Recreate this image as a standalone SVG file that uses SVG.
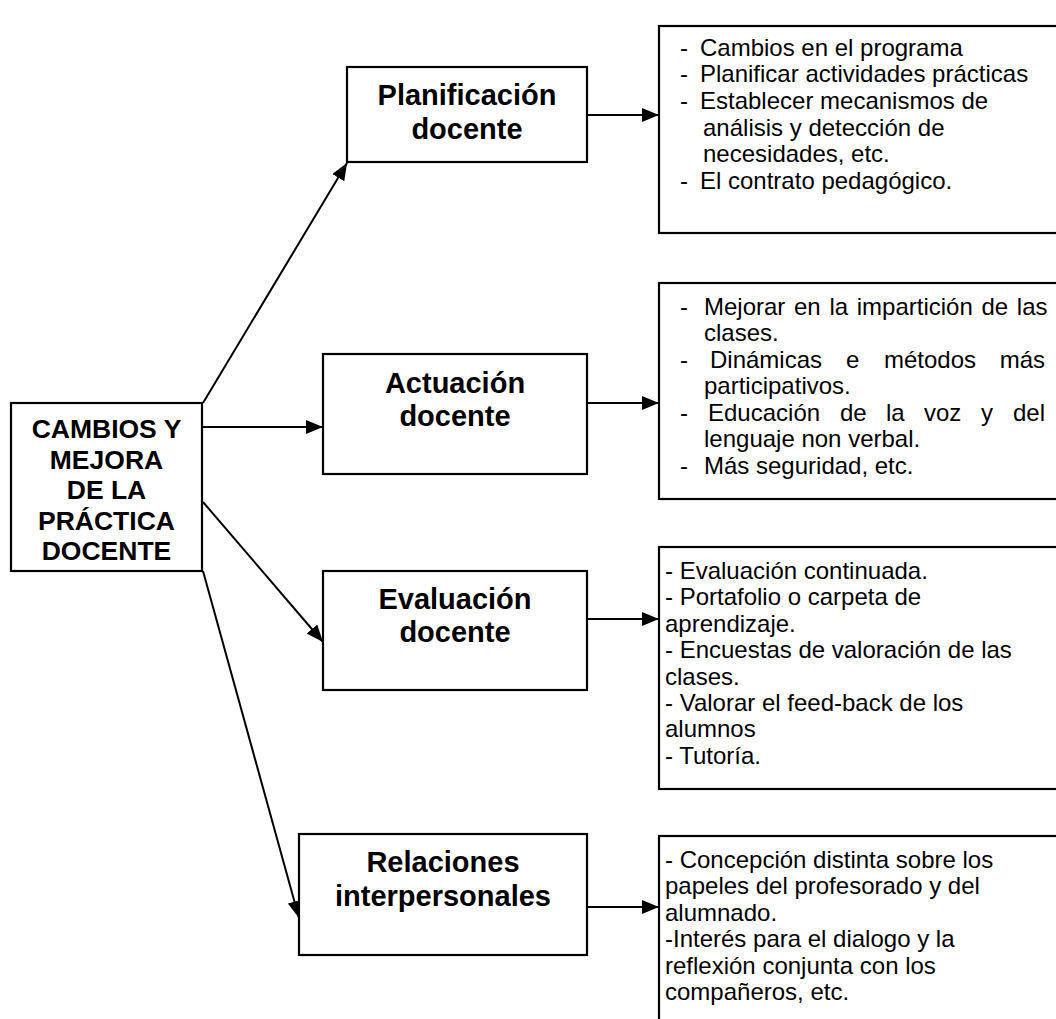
<svg xmlns="http://www.w3.org/2000/svg" width="1056" height="1019" viewBox="0 0 1056 1019">
  <style>
    .box { fill: #ffffff; stroke: #000000; stroke-width: 2.2; }
    .conn { fill: none; stroke: #000000; stroke-width: 2; }
    .main { font-family: "Liberation Sans", Arial, sans-serif; font-weight: bold; font-size: 26.5px; text-anchor: middle; fill: #000; }
    .head { font-family: "Liberation Sans", Arial, sans-serif; font-weight: bold; font-size: 29px; text-anchor: middle; fill: #000; }
    .item { font-family: "Liberation Sans", Arial, sans-serif; font-size: 24px; fill: #000; }
  </style>
  <defs>
    <marker id="arrow" markerUnits="userSpaceOnUse" markerWidth="17" markerHeight="14" refX="17" refY="7" orient="auto">
      <path d="M0,0 L17,7 L0,14 Z" fill="#000"/>
    </marker>
  </defs>
  <rect width="1056" height="1019" fill="#ffffff"/>

  <!-- connectors -->
  <g id="connectors">
    <line class="conn" x1="203" y1="403" x2="347" y2="163" marker-end="url(#arrow)"/>
    <line class="conn" x1="202" y1="427" x2="323" y2="427" marker-end="url(#arrow)"/>
    <line class="conn" x1="203" y1="502" x2="323" y2="642" marker-end="url(#arrow)"/>
    <line class="conn" x1="203" y1="571" x2="299" y2="918" marker-end="url(#arrow)"/>
    <line class="conn" x1="587" y1="115" x2="659" y2="115" marker-end="url(#arrow)"/>
    <line class="conn" x1="587" y1="403" x2="659" y2="403" marker-end="url(#arrow)"/>
    <line class="conn" x1="587" y1="619" x2="659" y2="619" marker-end="url(#arrow)"/>
    <line class="conn" x1="587" y1="907" x2="659" y2="907" marker-end="url(#arrow)"/>
  </g>

  <!-- central node -->
  <g id="cambios">
    <rect class="box" x="11" y="403" width="191" height="168"/>
    <text class="main" x="106.5" y="438">CAMBIOS Y</text>
    <text class="main" x="106.5" y="469">MEJORA</text>
    <text class="main" x="106.5" y="499">DE LA</text>
    <text class="main" x="106.5" y="530">PRÁCTICA</text>
    <text class="main" x="106.5" y="560">DOCENTE</text>
  </g>

  <!-- category nodes -->
  <g id="planificacion">
    <rect class="box" x="347" y="67" width="240" height="95"/>
    <text class="head" x="467" y="105">Planificación</text>
    <text class="head" x="467" y="139">docente</text>
  </g>
  <g id="actuacion">
    <rect class="box" x="323" y="354" width="264" height="120"/>
    <text class="head" x="455" y="393">Actuación</text>
    <text class="head" x="455" y="426">docente</text>
  </g>
  <g id="evaluacion">
    <rect class="box" x="323" y="571" width="264" height="119"/>
    <text class="head" x="455" y="609">Evaluación</text>
    <text class="head" x="455" y="642">docente</text>
  </g>
  <g id="relaciones">
    <rect class="box" x="299" y="834" width="288" height="121"/>
    <text class="head" x="443" y="872">Relaciones</text>
    <text class="head" x="443" y="906">interpersonales</text>
  </g>

  <!-- detail nodes -->
  <g id="detalle-planificacion">
    <rect class="box" x="659" y="26" width="420" height="207"/>
    <text class="item" x="680" y="56">-</text><text class="item" x="700" y="56">Cambios en el programa</text>
    <text class="item" x="680" y="82">-</text><text class="item" x="700" y="82">Planificar actividades prácticas</text>
    <text class="item" x="680" y="109">-</text><text class="item" x="700" y="109">Establecer mecanismos de</text>
    <text class="item" x="703" y="136">análisis y detección de</text>
    <text class="item" x="703" y="162">necesidades, etc.</text>
    <text class="item" x="680" y="189">-</text><text class="item" x="700" y="189">El contrato pedagógico.</text>
  </g>
  <g id="detalle-actuacion">
    <rect class="box" x="659" y="283" width="420" height="216"/>
    <text class="item" x="680" y="315">-</text>
    <text class="item" x="704" y="315" word-spacing="2">Mejorar en la impartición de las</text>
    <text class="item" x="704" y="341">clases.</text>
    <text class="item" x="680" y="368">-</text>
    <text class="item"><tspan x="710" y="368">Dinámicas</tspan><tspan x="846">e</tspan><tspan x="884">métodos</tspan><tspan x="1045" text-anchor="end">más</tspan></text>
    <text class="item" x="704" y="394">participativos.</text>
    <text class="item" x="680" y="421">-</text>
    <text class="item"><tspan x="708" y="421">Educación</tspan><tspan x="840">de</tspan><tspan x="886">la</tspan><tspan x="924">voz</tspan><tspan x="981">y</tspan><tspan x="1045" text-anchor="end">del</tspan></text>
    <text class="item" x="704" y="447">lenguaje non verbal.</text>
    <text class="item" x="680" y="474">-</text><text class="item" x="704" y="474">Más seguridad, etc.</text>
  </g>
  <g id="detalle-evaluacion">
    <rect class="box" x="659" y="547" width="420" height="242"/>
    <text class="item" x="665" y="579">- Evaluación continuada.</text>
    <text class="item" x="665" y="605">- Portafolio o carpeta de</text>
    <text class="item" x="665" y="632">aprendizaje.</text>
    <text class="item" x="665" y="658">- Encuestas de valoración de las</text>
    <text class="item" x="665" y="685">clases.</text>
    <text class="item" x="665" y="711">- Valorar el feed-back de los</text>
    <text class="item" x="665" y="737">alumnos</text>
    <text class="item" x="665" y="764">- Tutoría.</text>
  </g>
  <g id="detalle-relaciones">
    <rect class="box" x="659" y="836" width="420" height="220"/>
    <text class="item" x="665" y="868">- Concepción distinta sobre los</text>
    <text class="item" x="665" y="894">papeles del profesorado y del</text>
    <text class="item" x="665" y="921">alumnado.</text>
    <text class="item" x="665" y="947">-Interés para el dialogo y la</text>
    <text class="item" x="665" y="974">reflexión conjunta con los</text>
    <text class="item" x="665" y="1000">compañeros, etc.</text>
  </g>
</svg>
